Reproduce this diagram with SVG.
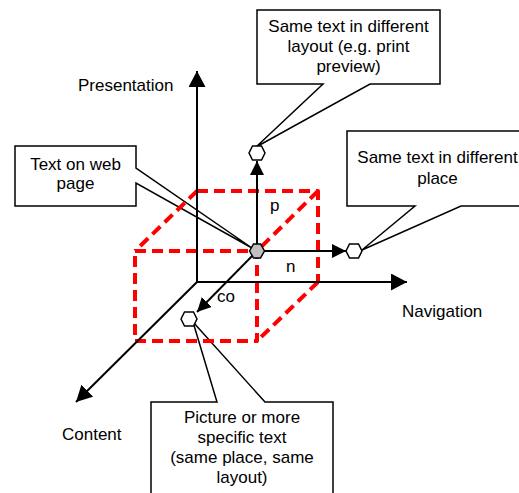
<svg xmlns="http://www.w3.org/2000/svg" width="519" height="493" viewBox="0 0 519 493">
<style>
.callout{fill:#fff;stroke:#000;stroke-width:1.5;stroke-linejoin:miter}
.cube{fill:none;stroke:#ff0000;stroke-width:4;stroke-dasharray:11 6;stroke-linejoin:round}
.axis{fill:none;stroke:#000;stroke-width:2}
.vec{fill:none;stroke:#000;stroke-width:2}
.hex{fill:#fff;stroke:#000;stroke-width:1.5}
.hex0{fill:#c0c0c0;stroke:#000;stroke-width:1.5}
text{font-family:"Liberation Sans",Arial,Helvetica,sans-serif;font-size:17px;fill:#000}
.c{text-anchor:middle}
</style>
<defs>
<marker id="bigArrow" viewBox="0 0 16 17" refX="16" refY="8.5" markerWidth="16" markerHeight="17" markerUnits="userSpaceOnUse" orient="auto"><path d="M0,0 L16,8.5 L0,17 z" fill="#000"/></marker>
<marker id="smallArrow" viewBox="0 0 14 14" refX="14" refY="7" markerWidth="14" markerHeight="14" markerUnits="userSpaceOnUse" orient="auto"><path d="M0,0 L14,7 L0,14 z" fill="#000"/></marker>
<polygon id="hexShape" points="-8,0 -4.5,-7 4.5,-7 8,0 4.5,7 -4.5,7"/>
</defs>

<g id="callouts">
<g id="callout-web"><polygon class="callout" points="15,146 136,146 136,168 252,248 136,183 136,206 15,206"/>
<text class="c" x="75.5" y="170">Text on web</text><text class="c" x="75.5" y="189">page</text></g>
<g id="callout-layout"><polygon class="callout" points="257,10 440,10 440,84 370,84 256,147 323,84 257,84"/>
<text class="c" x="348.5" y="32">Same text in different</text><text class="c" x="348.5" y="52">layout (e.g. print</text><text class="c" x="348.5" y="72">preview)</text></g>
<g id="callout-place"><polygon class="callout" points="347,131 530,131 530,206 461,206 362,250 415,206 347,206"/>
<text class="c" x="437.5" y="163">Same text in different</text><text class="c" x="437.5" y="184">place</text></g>
<g id="callout-content"><polygon class="callout" points="151,500 151,402 217,402 193,322 265,402 333,402 333,500"/>
<text class="c" x="242" y="423">Picture or more</text><text class="c" x="242" y="443">specific text</text><text class="c" x="242" y="463">(same place, same</text><text class="c" x="242" y="483">layout)</text></g>
</g>

<g id="cube">
<path class="cube" d="M197,191 L318,191 L318,282"/>
<path class="cube" d="M135,251 L257,251 L257,341 L135,341 Z"/>
<path class="cube" d="M197,191 L135,251"/>
<path class="cube" d="M318,191 L257,251"/>
<path class="cube" d="M318,282 L257,341"/>
</g>

<g id="connectors">
<line class="axis" x1="197" y1="282" x2="197" y2="71" marker-end="url(#bigArrow)"/>
<line class="axis" x1="197" y1="282" x2="407" y2="282" marker-end="url(#bigArrow)"/>
<line class="axis" x1="197" y1="282" x2="76" y2="402" marker-end="url(#bigArrow)"/>
<line class="vec" x1="257" y1="251" x2="257" y2="161" marker-end="url(#smallArrow)"/>
<line class="vec" x1="257" y1="251" x2="346" y2="251" marker-end="url(#smallArrow)"/>
<line class="vec" x1="257" y1="251" x2="197" y2="312" marker-end="url(#smallArrow)"/>
</g>

<g id="node-origin"><polygon class="hex0" points="249.5,251 253.5,244 260.5,244 264.5,251 260.5,258 253.5,258"/></g>
<g id="node-p"><use href="#hexShape" class="hex" x="257" y="153"/></g>
<g id="node-n"><use href="#hexShape" class="hex" x="354" y="251"/></g>
<g id="node-co"><use href="#hexShape" class="hex" x="189" y="319"/></g>

<g id="labels">
<text x="78" y="90.5">Presentation</text>
<text x="402" y="316.5">Navigation</text>
<text x="62" y="439.5">Content</text>
<text x="270" y="211">p</text>
<text x="286" y="272">n</text>
<text x="217" y="302">co</text>
</g>
</svg>
